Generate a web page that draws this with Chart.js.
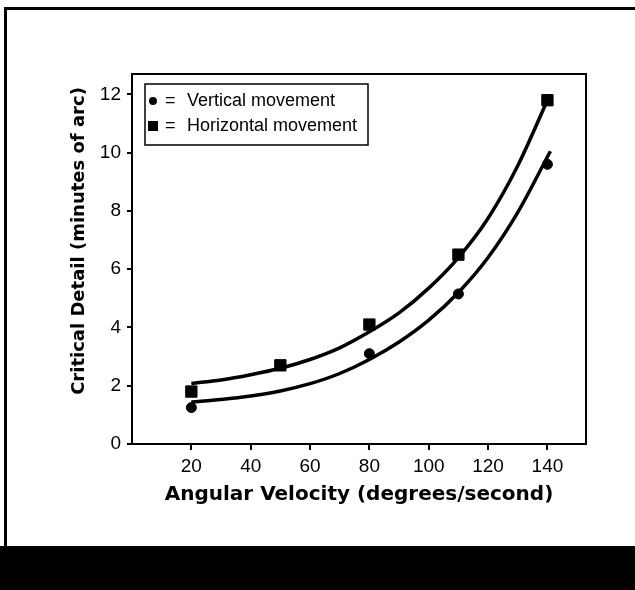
<!DOCTYPE html>
<html>
<head>
<meta charset="utf-8">
<script src="https://cdn.jsdelivr.net/npm/chart.js@4/dist/chart.umd.min.js"></script>
<style>
    html, body { margin: 0; padding: 0; background: #fff; }
    #wrap { position: relative; width: 635px; height: 590px; overflow: hidden; }
    #frame { position: absolute; left: 4px; top: 7px; width: 640px; height: 545px;
             border-top: 3px solid #000; border-left: 3px solid #000; box-sizing: border-box; }
    #bar { position: absolute; left: 0; top: 546px; width: 635px; height: 44px; background: #000; }
    #chart { position: absolute; left: 0; top: 0; }
</style>
</head>
<body>
<div id="wrap">
    <div id="frame"></div>
    <div id="bar"></div>
    <canvas id="chart" width="635" height="590"></canvas>
</div>
<script>
// measured points
const verticalX = [20, 80, 110, 140];
const verticalY = [1.25, 3.1, 5.15, 9.6];
const horizontalX = [20, 50, 80, 110, 140];
const horizontalY = [1.8, 2.7, 4.1, 6.5, 11.8];

// fitted curves
const upperCurveX = [20, 30, 40, 50, 60, 70, 80, 90, 100, 110, 120, 130, 140];
const upperCurveY = [2.08, 2.2, 2.38, 2.6, 2.9, 3.3, 3.85, 4.5, 5.35, 6.4, 7.75, 9.55, 11.8];
const lowerCurveX = [20, 30, 40, 50, 60, 70, 80, 90, 100, 110, 120, 130, 141];
const lowerCurveY = [1.44, 1.53, 1.65, 1.82, 2.07, 2.42, 2.9, 3.5, 4.25, 5.2, 6.4, 7.95, 10.05];

const xTicks = [20, 40, 60, 80, 100, 120, 140];
const yTicks = [0, 2, 4, 6, 8, 10, 12];

const legendLabels = ['Vertical movement', 'Horizontal movement'];
const xTitle = 'Angular Velocity (degrees/second)';
const yTitle = 'Critical Detail (minutes of arc)';

function pairs(xs, ys) {
    return xs.map((x, i) => ({x: x, y: ys[i]}));
}

const frameBox = {
    id: 'frameBox',
    afterDraw(chart) {
        const {ctx, chartArea: a} = chart;
        ctx.save();
        ctx.strokeStyle = '#000';
        ctx.lineWidth = 2;
        ctx.strokeRect(a.left, a.top, a.right - a.left, a.bottom - a.top);

        // y title
        ctx.fillStyle = '#000';
        ctx.font = 'bold 18px "DejaVu Sans"';
        ctx.textAlign = 'center';
        ctx.textBaseline = 'middle';
        ctx.translate(79, 241);
        ctx.rotate(-Math.PI / 2);
        ctx.fillText(yTitle, 0, 0);
        ctx.restore();

        // legend box
        ctx.save();
        ctx.strokeStyle = '#000';
        ctx.lineWidth = 1.5;
        ctx.strokeRect(a.left + 13, a.top + 10, 223, 61);
        ctx.fillStyle = '#000';
        ctx.font = '18px "Liberation Sans"';
        ctx.textBaseline = 'middle';
        const rows = [a.top + 27, a.top + 52];
        ctx.beginPath();
        ctx.arc(a.left + 21, rows[0], 4, 0, Math.PI * 2);
        ctx.fill();
        ctx.fillRect(a.left + 16, rows[1] - 5, 10, 10);
        legendLabels.forEach((label, i) => {
            ctx.fillText('=', a.left + 33, rows[i]);
            ctx.fillText(label, a.left + 55, rows[i]);
        });
        ctx.restore();
    }
};

const ctx = document.getElementById('chart').getContext('2d');
new Chart(ctx, {
    type: 'scatter',
    data: {
        datasets: [
            {
                label: 'upper fit',
                data: pairs(upperCurveX, upperCurveY),
                showLine: true,
                borderColor: '#000',
                borderWidth: 3.5,
                pointRadius: 0,
                cubicInterpolationMode: 'monotone'
            },
            {
                label: 'lower fit',
                data: pairs(lowerCurveX, lowerCurveY),
                showLine: true,
                borderColor: '#000',
                borderWidth: 3.5,
                pointRadius: 0,
                cubicInterpolationMode: 'monotone'
            },
            {
                label: legendLabels[0],
                data: pairs(verticalX, verticalY),
                pointStyle: 'circle',
                pointRadius: 5,
                backgroundColor: '#000',
                borderColor: '#000'
            },
            {
                label: legendLabels[1],
                data: pairs(horizontalX, horizontalY),
                pointStyle: 'rect',
                pointRadius: 8,
                backgroundColor: '#000',
                borderColor: '#000'
            }
        ]
    },
    options: {
        responsive: false,
        animation: false,
        layout: { padding: { left: 66, right: 49, top: 74, bottom: 79 } },
        plugins: {
            legend: { display: false },
            tooltip: { enabled: false }
        },
        scales: {
            x: {
                type: 'linear',
                min: 0,
                max: 153,
                afterBuildTicks: s => { s.ticks = xTicks.map(v => ({value: v})); },
                afterFit: s => { s.height = 67; },
                grid: { drawOnChartArea: false, drawTicks: true, tickLength: 6, color: '#000', lineWidth: 2 },
                border: { display: true, color: '#000', width: 2 },
                ticks: { color: '#000', padding: 5, maxRotation: 0, font: { family: 'Liberation Sans', size: 19 } },
                title: {
                    display: true,
                    text: xTitle,
                    color: '#000',
                    padding: { top: 4, bottom: 4 },
                    font: { family: 'DejaVu Sans', size: 20, weight: 'bold' }
                }
            },
            y: {
                type: 'linear',
                min: 0,
                max: 12.7,
                afterBuildTicks: s => { s.ticks = yTicks.map(v => ({value: v})); },
                afterFit: s => { s.width = 66; },
                grid: { drawOnChartArea: false, drawTicks: true, tickLength: 5, color: '#000', lineWidth: 2 },
                border: { display: true, color: '#000', width: 2 },
                ticks: { color: '#000', padding: 6, font: { family: 'Liberation Sans', size: 19 } }
            }
        }
    },
    plugins: [frameBox]
});
</script>
</body>
</html>
